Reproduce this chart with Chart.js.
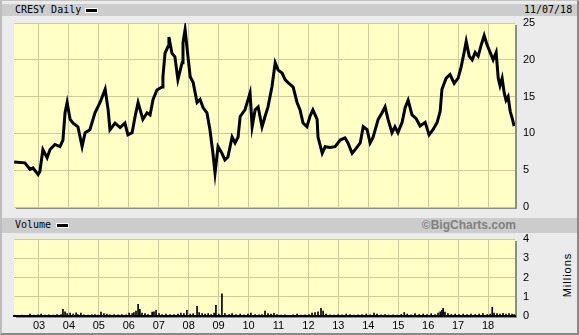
<!DOCTYPE html>
<html>
<head>
<meta charset="utf-8">
<script src="https://cdn.jsdelivr.net/npm/chart.js"></script>
<style>
  body { margin: 0; background: #ebebeb; }
  #frame {
    position: absolute; left: 0; top: 0; width: 579px; height: 335px;
    box-sizing: border-box; overflow: hidden;
    border-left: 2px solid #bdbdbd; border-top: 1px solid #c4c4c4;
    border-right: 2px solid #8a8a8a; border-bottom: 2px solid #8a8a8a;
  }
  .bar { position: absolute; left: 2px; width: 575px; background: #cccccc; }
  .mono { position: absolute; font: 10px "DejaVu Sans Mono", monospace; color: #000; line-height: 12px; }
  .key { position: absolute; width: 11px; height: 3px; background: #000; border: 1px solid #fff; }
  canvas { position: absolute; left: 0; top: 0; }
</style>
</head>
<body>
<div id="frame"></div>
<div class="bar" style="top:4px;height:12px"></div>
<div class="bar" style="top:218px;height:15px"></div>
<div class="mono" style="left:15px;top:4px">CRESY Daily</div>
<div class="key" style="left:85px;top:8px"></div>
<div class="mono" style="left:524px;top:4px">11/07/18</div>
<div class="mono" style="left:15px;top:219px">Volume</div>
<div class="key" style="left:56px;top:223px"></div>
<div style="position:absolute;left:400px;top:218px;width:116px;text-align:right;font:bold 12px 'Liberation Sans',Arial,sans-serif;color:#808080;line-height:15px">©BigCharts.com</div>
<div style="position:absolute;left:537px;top:269px;width:60px;text-align:center;font:11px 'Liberation Sans',Arial,sans-serif;letter-spacing:1px;line-height:12px;transform:rotate(-90deg)">Millions</div>
<canvas id="price" width="579" height="335"></canvas>
<canvas id="vol" width="579" height="335"></canvas>
<script>
// rango visible del eje x, en años fraccionarios
const X_MIN = 2002.165;
const X_MAX = 2018.9;
const years = [2003, 2004, 2005, 2006, 2007, 2008, 2009, 2010, 2011, 2012, 2013, 2014, 2015, 2016, 2017, 2018];

// precio (cierre aprox.)
const priceT = [
  2002.17, 2002.53, 2002.70, 2002.80, 2002.97, 2003.03, 2003.13, 2003.27, 2003.37, 2003.53,
  2003.70, 2003.80, 2003.87, 2003.94, 2004.04, 2004.14, 2004.30, 2004.44, 2004.54, 2004.70,
  2004.87, 2005.04, 2005.21, 2005.31, 2005.37, 2005.54, 2005.71, 2005.87, 2005.97, 2006.11,
  2006.21, 2006.31, 2006.47, 2006.61, 2006.71, 2006.81, 2006.94, 2007.11, 2007.14, 2007.21,
  2007.31, 2007.34, 2007.44, 2007.54, 2007.64, 2007.78, 2007.81, 2007.88, 2007.94, 2008.05,
  2008.15, 2008.28, 2008.38, 2008.48, 2008.61, 2008.71, 2008.81, 2008.88, 2008.98, 2009.11,
  2009.21, 2009.31, 2009.45, 2009.55, 2009.65, 2009.72, 2009.88, 2010.05, 2010.12, 2010.22,
  2010.32, 2010.45, 2010.55, 2010.65, 2010.78, 2010.89, 2010.99, 2011.12, 2011.22, 2011.32,
  2011.49, 2011.62, 2011.72, 2011.82, 2011.95, 2012.05, 2012.15, 2012.29, 2012.32, 2012.46,
  2012.56, 2012.72, 2012.89, 2013.06, 2013.22, 2013.32, 2013.46, 2013.56, 2013.73, 2013.83,
  2013.96, 2014.06, 2014.16, 2014.33, 2014.46, 2014.56, 2014.66, 2014.79, 2014.89, 2014.99,
  2015.13, 2015.23, 2015.33, 2015.46, 2015.60, 2015.73, 2015.90, 2016.03, 2016.16, 2016.30,
  2016.40, 2016.46, 2016.60, 2016.73, 2016.87, 2017.00, 2017.10, 2017.20, 2017.27, 2017.37,
  2017.47, 2017.57, 2017.67, 2017.77, 2017.87, 2017.97, 2018.07, 2018.17, 2018.27, 2018.34,
  2018.40, 2018.47, 2018.54, 2018.60, 2018.67, 2018.74, 2018.81, 2018.87
];
const prices = [
  6.1, 6.0, 5.1, 5.3, 4.4, 4.85, 7.8, 6.7, 7.8, 8.5,
  8.2, 9.1, 12.8, 14.2, 11.9, 11.4, 10.9, 8.2, 10.1, 10.5,
  12.8, 14.2, 16.0, 13.2, 10.5, 11.4, 10.8, 11.4, 9.8, 10.1,
  12.3, 14.2, 11.9, 12.8, 12.5, 14.6, 15.9, 16.3, 17.7, 20.9,
  21.8, 23.1, 20.9, 20.4, 17.3, 19.6, 22.3, 24.1, 21.8, 17.7,
  16.9, 14.2, 14.6, 13.5, 12.8, 10.5, 7.3, 4.6, 8.2, 7.3,
  6.4, 6.8, 9.5, 8.7, 9.5, 12.3, 13.2, 15.5, 10.9, 13.2,
  13.6, 10.9, 12.3, 13.6, 16.3, 19.6, 18.6, 18.2, 17.3, 16.9,
  16.3, 14.2, 13.2, 11.4, 10.9, 12.3, 13.2, 11.9, 9.5, 7.3,
  8.2, 8.1, 8.2, 9.1, 9.4, 8.7, 7.3, 7.8, 8.7, 10.9,
  10.5, 8.7, 9.5, 11.9, 12.8, 13.6, 11.9, 10.1, 10.9, 10.1,
  11.5, 13.5, 14.5, 12.5, 12.0, 11.0, 11.5, 9.8, 10.5, 11.5,
  13.0, 16.0, 17.5, 18.0, 16.8, 17.5, 19.0, 21.0, 22.5, 20.5,
  20.0, 21.0, 20.5, 22.0, 23.3, 22.0, 21.0, 20.0, 21.0, 17.5,
  16.5, 17.5, 15.5, 14.5, 15.0, 13.0, 12.0, 11.0
];
const priceTicks = [0, 5, 10, 15, 20, 25];

// volumen en millones
const volT = [
  2002.16, 2002.30, 2002.43, 2002.57, 2002.70, 2002.83, 2002.97, 2003.07, 2003.20, 2003.33,
  2003.47, 2003.60, 2003.74, 2003.80, 2003.87, 2003.94, 2004.04, 2004.14, 2004.24, 2004.30,
  2004.40, 2004.50, 2004.64, 2004.77, 2004.87, 2004.97, 2005.07, 2005.17, 2005.27, 2005.37,
  2005.51, 2005.64, 2005.77, 2005.91, 2006.01, 2006.11, 2006.17, 2006.24, 2006.31, 2006.37,
  2006.44, 2006.54, 2006.64, 2006.78, 2006.84, 2006.91, 2007.01, 2007.11, 2007.24, 2007.38,
  2007.51, 2007.64, 2007.74, 2007.84, 2007.94, 2008.05, 2008.15, 2008.28, 2008.35, 2008.45,
  2008.55, 2008.65, 2008.75, 2008.85, 2008.91, 2009.01, 2009.11, 2009.21, 2009.35, 2009.45,
  2009.58, 2009.72, 2009.85, 2009.98, 2010.08, 2010.22, 2010.35, 2010.45, 2010.55, 2010.65,
  2010.75, 2010.85, 2010.95, 2011.09, 2011.22, 2011.35, 2011.49, 2011.62, 2011.75, 2011.89,
  2012.02, 2012.12, 2012.22, 2012.32, 2012.42, 2012.49, 2012.59, 2012.72, 2012.86, 2012.99,
  2013.12, 2013.26, 2013.39, 2013.52, 2013.66, 2013.79, 2013.93, 2014.06, 2014.19, 2014.29,
  2014.43, 2014.56, 2014.69, 2014.83, 2014.96, 2015.10, 2015.20, 2015.30, 2015.43, 2015.56,
  2015.70, 2015.83, 2015.96, 2016.10, 2016.23, 2016.33, 2016.40, 2016.46, 2016.50, 2016.56,
  2016.66, 2016.77, 2016.90, 2017.03, 2017.17, 2017.30, 2017.43, 2017.57, 2017.70, 2017.83,
  2017.97, 2018.07, 2018.14, 2018.20, 2018.30, 2018.40, 2018.50, 2018.60, 2018.70, 2018.80,
  2018.87
];
const vol = [
  0.05, 0.04, 0.05, 0.04, 0.10, 0.05, 0.06, 0.10, 0.05, 0.06,
  0.05, 0.07, 0.08, 0.35, 0.22, 0.12, 0.15, 0.10, 0.16, 0.08,
  0.15, 0.06, 0.05, 0.06, 0.08, 0.05, 0.20, 0.12, 0.10, 0.06,
  0.08, 0.06, 0.08, 0.06, 0.15, 0.12, 0.18, 0.25, 0.60, 0.35,
  0.15, 0.12, 0.08, 0.20, 0.22, 0.30, 0.12, 0.08, 0.10, 0.07,
  0.08, 0.10, 0.15, 0.12, 0.30, 0.10, 0.12, 0.50, 0.18, 0.12,
  0.10, 0.12, 0.08, 0.15, 0.55, 0.10, 1.15, 0.12, 0.08, 0.12,
  0.08, 0.10, 0.06, 0.10, 0.15, 0.08, 0.06, 0.08, 0.25, 0.12,
  0.10, 0.14, 0.08, 0.05, 0.06, 0.04, 0.06, 0.10, 0.05, 0.06,
  0.08, 0.15, 0.18, 0.22, 0.40, 0.25, 0.10, 0.06, 0.05, 0.08,
  0.06, 0.10, 0.08, 0.05, 0.06, 0.08, 0.10, 0.06, 0.15, 0.10,
  0.06, 0.08, 0.05, 0.06, 0.05, 0.08, 0.18, 0.10, 0.06, 0.12,
  0.08, 0.10, 0.08, 0.12, 0.08, 0.15, 0.22, 0.30, 0.40, 0.20,
  0.12, 0.08, 0.10, 0.08, 0.10, 0.08, 0.10, 0.08, 0.10, 0.12,
  0.08, 0.10, 0.45, 0.15, 0.12, 0.10, 0.14, 0.10, 0.12, 0.10,
  0.08
];
const volTicks = [0, 1, 2, 3, 4];

const PLOT_BG = '#ffffc6';
const GRID = '#cdcd9a';
const AXIS_FONT = { family: "'Liberation Sans', Arial, sans-serif", size: 11 };

// fondo amarillo + sombra gris abajo/derecha
const plotBg = {
  id: 'plotBg',
  beforeDraw(chart) {
    const { ctx, chartArea: a } = chart;
    ctx.save();
    ctx.fillStyle = '#8c8c8c';
    ctx.fillRect(a.left + 2, a.top + 2, a.width, a.height);
    ctx.fillStyle = PLOT_BG;
    ctx.fillRect(a.left, a.top, a.width, a.height);
    ctx.restore();
  }
};

function yearAxis(showLabels) {
  return {
    type: 'linear',
    min: X_MIN,
    max: X_MAX,
    offset: false,
    afterBuildTicks: s => { s.ticks = years.map(v => ({ value: v })); },
    ticks: {
      display: showLabels,
      color: '#000',
      font: AXIS_FONT,
      padding: 3,
      maxRotation: 0,
      callback: v => String(v % 100).padStart(2, '0')
    },
    grid: { color: GRID, drawTicks: false, offset: false },
    border: { display: false },
    afterFit: s => { s.height = showLabels ? 19 : 0; }
  };
}

function rightAxis(min, max, ticks) {
  return {
    position: 'right',
    min: min,
    max: max,
    afterBuildTicks: s => { s.ticks = ticks.map(v => ({ value: v })); },
    ticks: { color: '#000', font: AXIS_FONT, padding: 8 },
    grid: { color: GRID, drawTicks: false },
    border: { display: false },
    afterFit: s => { s.width = 64; }
  };
}

new Chart(document.getElementById('price'), {
  type: 'line',
  data: {
    datasets: [{
      data: priceT.map((t, i) => ({ x: t, y: prices[i] })),
      borderColor: '#000',
      borderWidth: 3,
      pointRadius: 0,
      tension: 0
    }]
  },
  options: {
    responsive: false,
    animation: false,
    layout: { padding: { left: 14, top: 23, right: 0, bottom: 128 } },
    plugins: { legend: { display: false }, tooltip: { enabled: false } },
    scales: { x: yearAxis(false), y: rightAxis(0, 25, priceTicks) }
  },
  plugins: [plotBg]
});

const volX = yearAxis(true);
volX.border = { display: true, color: '#000', width: 2 };

new Chart(document.getElementById('vol'), {
  type: 'bar',
  data: {
    datasets: [{
      data: volT.map((t, i) => ({ x: t, y: vol[i] })),
      backgroundColor: '#000',
      barThickness: 1
    }]
  },
  options: {
    responsive: false,
    animation: false,
    layout: { padding: { left: 14, top: 239, right: 0, bottom: 0 } },
    plugins: { legend: { display: false }, tooltip: { enabled: false } },
    scales: { x: volX, y: rightAxis(0, 4, volTicks) }
  },
  plugins: [plotBg]
});
</script>
</body>
</html>
